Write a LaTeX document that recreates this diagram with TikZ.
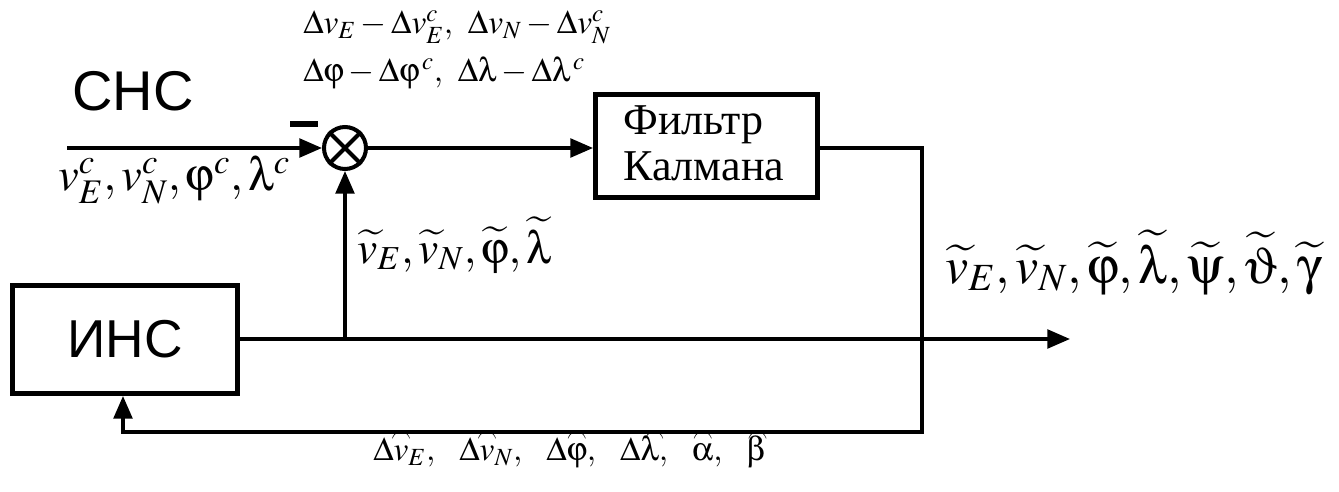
\documentclass[tikz,border=0pt]{standalone}
\usepackage{amsmath}
\usepackage{graphicx}
\usepackage{mathptmx}
\usepackage[Symbol]{upgreek}
\usepackage[no-math]{fontspec}
\setmainfont{Liberation Serif}
\setsansfont{Liberation Sans}
\usetikzlibrary{arrows.meta}

% arc accent set just above a symbol; optional argument = sideways shift of the arc
\newcommand{\arcac}[2][0em]{\hbox{\ooalign{$#2$\cr\hidewidth\kern#1\kern#1%
  \raisebox{0.5em}{\scalebox{0.6}[1]{$\frown$}}\hidewidth\cr}}}
\newcommand{\tl}[1]{\widetilde{#1}}
\newcommand{\sep}{,\;\,}
\newcommand{\wsep}{,\mkern11mu}

\begin{document}
\begin{tikzpicture}[x=0.75pt,y=-0.75pt,
  block/.style={draw, line width=3.7pt, inner sep=0pt},
  conn/.style={line width=2.6pt},
  arr/.style={conn, -{Triangle[length=17pt,width=14pt]}},
  lbl/.style={anchor=base west, inner sep=0pt},
  sysname/.style={anchor=base west, inner sep=0pt, font=\sffamily\fontsize{42}{48}\selectfont}]

\useasboundingbox (0,0) rectangle (1339,492);

% blocks
\node[block, minimum width=168.75pt, minimum height=81pt,
      font=\sffamily\fontsize{40}{46}\selectfont] (ins) at (125,339.5) {ИНС};
\node[block, minimum width=166.5pt, minimum height=77pt] (kf) at (706.5,146) {};
\node[lbl, align=left, font=\fontsize{33}{34}\selectfont] (kftext) at (623,180)
  {Фильтр\\Калмана};

% summing junction
\node[draw, circle, line width=3pt, minimum size=31.5pt, inner sep=0pt] (sum) at (345,148) {};
\draw[line width=3pt] (sum.north west) -- (sum.south east)
                      (sum.north east) -- (sum.south west);

% free ends of connectors
\coordinate (in) at (67,148);
\coordinate (tap) at (345,339);
\coordinate (out) at (1070,339);
\coordinate (fbR) at (922,148);
\coordinate (fbB) at (922,432);
\coordinate (fbL) at (123,432);

% minus sign of the junction
\fill (290,121) rectangle (318,127);

% connectors
\draw[arr] (in) -- (sum.west);
\draw[arr] (sum.east) -- (kf.west |- sum.east);
\draw[conn] (ins.east |- tap) -- (tap);
\draw[arr] (tap) -- (out);
\draw[arr] (tap) -- (sum.south);
\draw[arr] (kf.east |- fbR) -- (fbR) -- (fbB) -- (fbL) -- (ins.south -| fbL);

% labels
\node[sysname] (snsname) at (72,110) {СНС};
\node[lbl, font=\fontsize{25}{28}\selectfont] (difA) at (303,34)
  {$\Delta v_E-\Delta v_E^c\sep\Delta v_N-\Delta v_N^c$};
\node[lbl, font=\fontsize{25}{28}\selectfont] (difB) at (303,82)
  {$\Delta\upvarphi-\Delta\upvarphi^{\,c}\sep\Delta\uplambda-\Delta\uplambda^{\,c}$};
\node[lbl, font=\fontsize{35}{38}\selectfont] (snsout) at (58,190)
  {$v_E^c,v_N^c,\upvarphi^c,\uplambda^c$};
\node[lbl, font=\fontsize{34}{38}\selectfont] (insout) at (357,263)
  {$\tl{v}_E,\tl{v}_N,\tl{\upvarphi},\tl{\uplambda}$};
\node[lbl, font=\fontsize{39}{42}\selectfont] (result) at (945,283)
  {$\tl{v}_E,\tl{v}_N,\tl{\upvarphi},\tl{\uplambda},\tl{\uppsi},\tl{\upvartheta},\tl{\upgamma}$};
\node[lbl, font=\fontsize{25}{30}\selectfont] (corr) at (373,460)
  {$\Delta\arcac{v}_E\wsep\Delta\arcac{v}_N\wsep\Delta\arcac{\upvarphi}\wsep
    \Delta\arcac[0.14em]{\uplambda}\wsep\arcac{\upalpha}\wsep\arcac[0.06em]{\upbeta}$};
\end{tikzpicture}
\end{document}
